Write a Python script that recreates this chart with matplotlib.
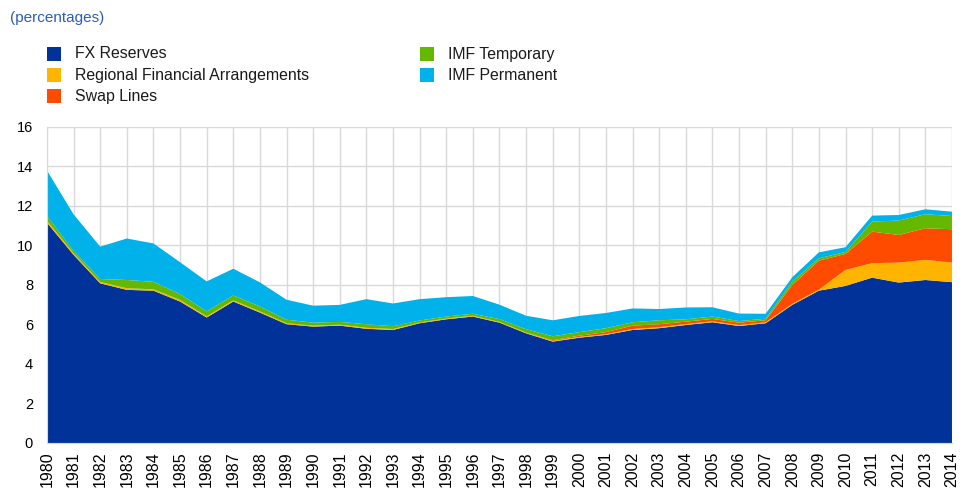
import matplotlib
matplotlib.use('Agg')
import matplotlib.pyplot as plt
from matplotlib.patches import Rectangle

plt.rcParams['font.family'] = ['Liberation Sans', 'DejaVu Sans']

years = list(range(1980, 2015))

fx_reserves = [11.15, 9.52, 8.08, 7.75, 7.71, 7.16, 6.35, 7.16, 6.60, 6.01,
               5.89, 5.94, 5.78, 5.72, 6.06, 6.26, 6.40, 6.09, 5.55, 5.13,
               5.33, 5.47, 5.72, 5.81, 5.97, 6.11, 5.92, 6.06, 6.99, 7.71,
               7.95, 8.37, 8.12, 8.25, 8.14]
regional = [0.10, 0.08, 0.07, 0.08, 0.07, 0.08, 0.06, 0.06, 0.06, 0.05,
            0.05, 0.05, 0.05, 0.05, 0.04, 0.04, 0.04, 0.04, 0.04, 0.04,
            0.04, 0.04, 0.05, 0.05, 0.05, 0.05, 0.05, 0.05, 0.05, 0.05,
            0.81, 0.73, 1.01, 1.02, 0.99]
swap_lines = [0, 0, 0, 0, 0, 0, 0, 0, 0, 0,
              0, 0, 0, 0, 0, 0, 0, 0, 0, 0.03,
              0.06, 0.10, 0.17, 0.15, 0.12, 0.12, 0.12, 0.10, 0.96, 1.47,
              0.81, 1.60, 1.40, 1.60, 1.69]
imf_temporary = [0.24, 0.12, 0.15, 0.42, 0.38, 0.30, 0.25, 0.25, 0.25, 0.18,
                 0.15, 0.14, 0.18, 0.14, 0.10, 0.10, 0.10, 0.14, 0.17, 0.20,
                 0.18, 0.20, 0.17, 0.20, 0.12, 0.12, 0.08, 0.08, 0.17, 0.12,
                 0.10, 0.51, 0.73, 0.71, 0.67]
imf_permanent = [2.30, 1.85, 1.64, 2.10, 1.94, 1.61, 1.52, 1.35, 1.22, 1.01,
                 0.86, 0.86, 1.27, 1.15, 1.08, 0.98, 0.90, 0.73, 0.68, 0.81,
                 0.82, 0.77, 0.70, 0.57, 0.60, 0.47, 0.38, 0.25, 0.22, 0.30,
                 0.24, 0.30, 0.28, 0.25, 0.22]

labels = ['FX Reserves', 'Regional Financial Arrangements', 'Swap Lines',
          'IMF Temporary', 'IMF Permanent']
colors = ['#003299', '#ffb400', '#ff4b00', '#65b800', '#00b1ea']

fig = plt.figure(figsize=(9.65, 4.9), dpi=100)
ax = fig.add_axes([0.0487, 0.096, 0.9378, 0.645])

ax.stackplot(years, fx_reserves, regional, swap_lines, imf_temporary,
             imf_permanent, colors=colors, linewidth=0, zorder=2)

ax.set_xlim(1980, 2014)
ax.set_ylim(0, 16)
ax.set_xticks(years)
ax.set_xticklabels([str(y) for y in years], rotation=90, fontsize=11.5)
ax.set_yticks(range(0, 17, 2))
ax.tick_params(axis='y', labelsize=10.5, length=0, pad=10)
ax.tick_params(axis='x', length=0, pad=6)
ax.grid(True, color='#d9d9d9', linewidth=1, zorder=0)
ax.set_axisbelow(True)
for side in ['top', 'right']:
    ax.spines[side].set_visible(False)
for side in ['left', 'bottom']:
    ax.spines[side].set_color('#d9d9d9')
    ax.spines[side].set_zorder(3)

fig.text(10 / 965, 1 - 18 / 490, '(percentages)', color='#2b5cb8',
         fontsize=11, va='center', ha='left')

# legend, drawn by hand to match the two-column layout
positions = [(47, 54), (47, 75), (47, 96), (420, 54), (420, 75)]
for (px, py), lab, col in zip(positions, labels, colors):
    fig.add_artist(Rectangle((px / 965, 1 - (py + 7) / 490), 14 / 965, 14 / 490,
                             transform=fig.transFigure, color=col, lw=0))
    fig.text((px + 28) / 965, 1 - py / 490, lab, fontsize=11.4,
             va='center', ha='left', color='#1a1a1a')

fig.savefig('out.png', dpi=100)
